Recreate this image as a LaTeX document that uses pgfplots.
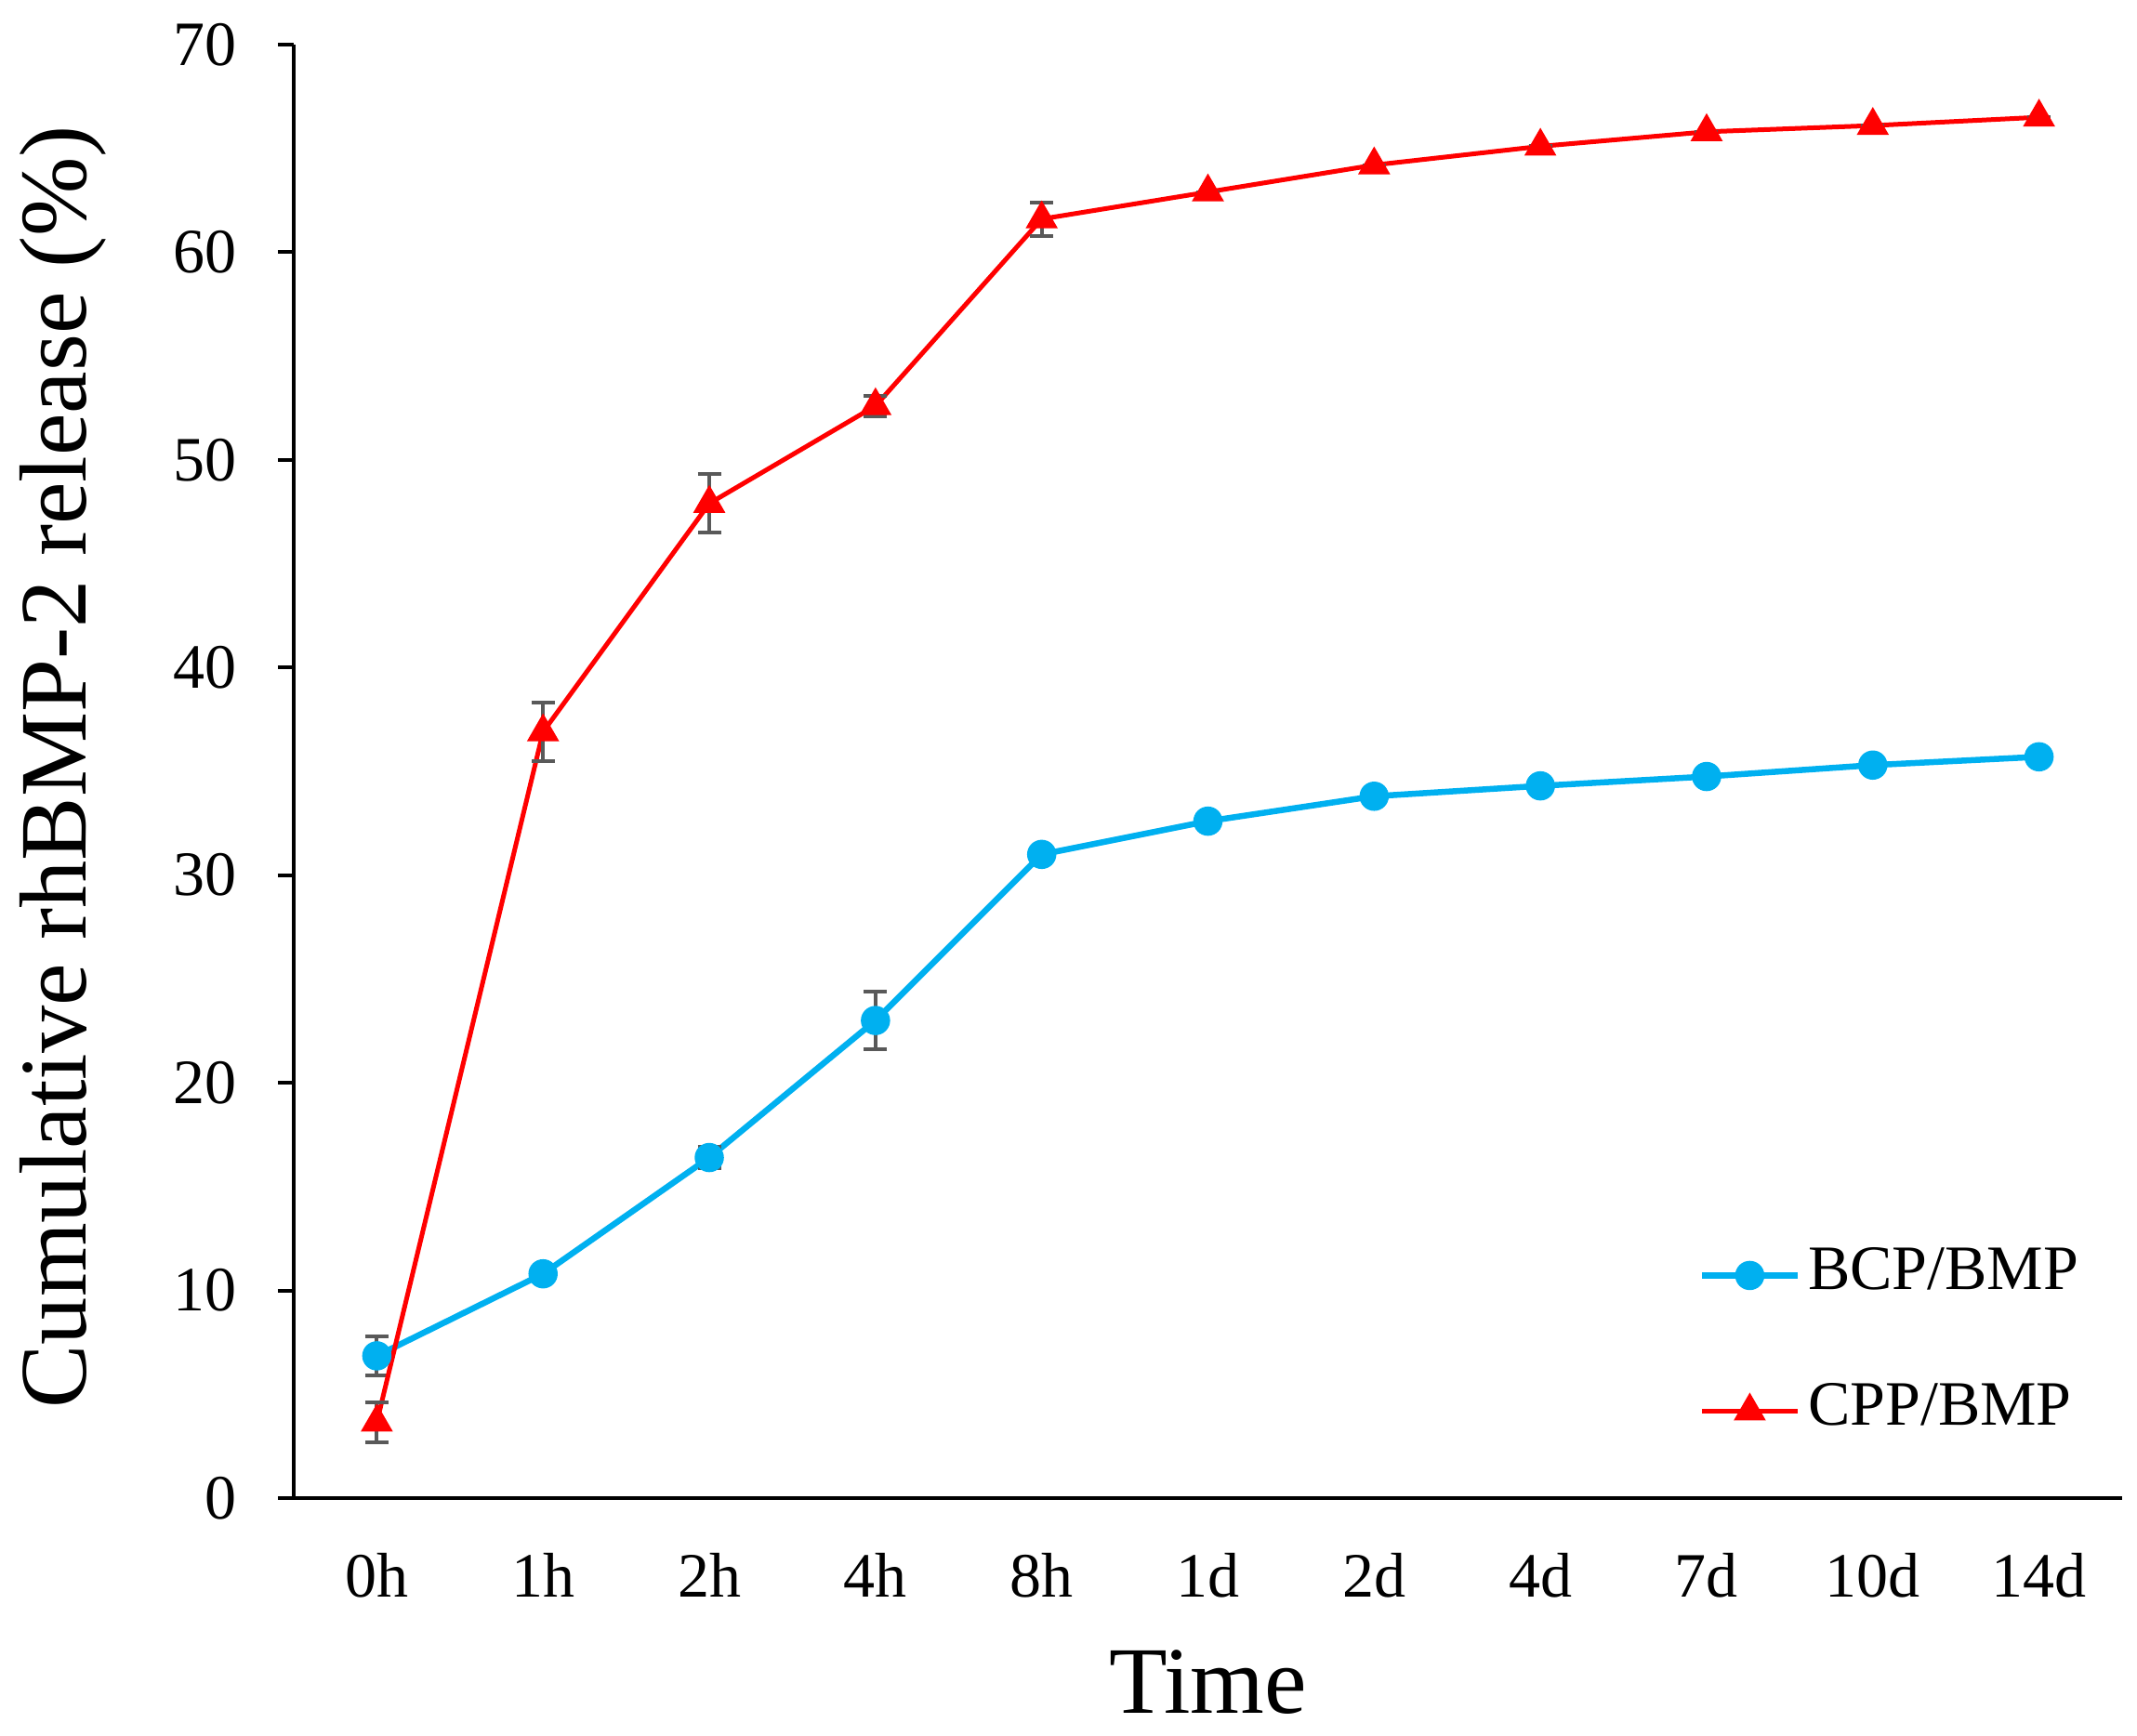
\documentclass[border=0pt]{standalone}
\usepackage{pgfplots}
\pgfplotsset{compat=1.18}
\usepackage{fontspec}
\setmainfont{Liberation Serif}
\definecolor{bcp}{RGB}{0,176,240}
\definecolor{cpp}{RGB}{255,0,0}
\definecolor{errc}{RGB}{89,89,89}

\begin{document}
\begin{tikzpicture}
\begin{axis}[
  scale only axis, width=393.4pt, height=312.8pt,
  xmin=-0.5, xmax=10.5, ymin=0, ymax=70,
  axis x line*=bottom, axis y line*=left,
  axis line style={line width=0.8pt, -},
  xtick={0,...,10},
  xticklabels={0h,1h,2h,4h,8h,1d,2d,4d,7d,10d,14d},
  ytick={0,10,...,70},
  tick align=outside,
  major tick length=3.4pt,
  xtick style={draw=none},
  ytick style={line width=0.8pt, black},
  tick label style={font=\fontsize{13.6}{16}\selectfont},
  /pgf/number format/assume math mode=true,
  yticklabel style={inner sep=0pt, xshift=-8.6pt},
  xticklabel style={inner sep=0pt, anchor=base, yshift=-18pt},
  xlabel={Time},
  ylabel={Cumulative rhBMP-2 release (\%)},
  label style={font=\fontsize{20.5}{24}\selectfont},
  xlabel style={at={(axis description cs:0.5,-0.1477)}, anchor=base},
  ylabel style={at={(axis description cs:-0.1134,0.503)}, anchor=base},
  legend cell align=left,
  legend style={draw=none, fill=none, at={(rel axis cs:0.768,0.1733)}, anchor=north west,
    inner sep=0pt, row sep=17pt, column sep=1.6pt,
    nodes={inner sep=0pt, font=\fontsize{13.6}{16}\selectfont, text height=9.2pt, text depth=3pt}},
  legend image code/.code={\draw[mark repeat=2, mark phase=2] plot coordinates {(0pt,0pt) (10.3pt,0pt) (20.6pt,0pt)};},
]
\addplot[color=bcp, line width=1.3pt, mark=*, mark size=3pt,
  mark options={fill=bcp, draw=bcp, line width=0.3pt},
  error bars/.cd, y dir=both, y explicit,
  error bar style={errc, line width=0.8pt},
  error mark options={errc, rotate=90, mark size=2.5pt, line width=0.8pt}]
coordinates {
(0,6.85) +- (0,0.93)
(1,10.8) +- (0,0)
(2,16.4) +- (0,0.5)
(3,23.0) +- (0,1.4)
(4,31.0) +- (0,0)
(5,32.6) +- (0,0)
(6,33.8) +- (0,0)
(7,34.3) +- (0,0)
(8,34.75) +- (0,0)
(9,35.3) +- (0,0)
(10,35.7) +- (0,0)
};
\addlegendentry{BCP/BMP}
\addplot[color=cpp, line width=1pt, mark=triangle*, mark size=3.7pt,
  mark options={fill=cpp, draw=cpp, line width=0.3pt},
  error bars/.cd, y dir=both, y explicit,
  error bar style={errc, line width=0.8pt},
  error mark options={errc, rotate=90, mark size=2.5pt, line width=0.8pt}]
coordinates {
(0,3.65) +- (0,0.95)
(1,36.9) +- (0,1.4)
(2,47.9) +- (0,1.4)
(3,52.6) +- (0,0.5)
(4,61.6) +- (0,0.8)
(5,62.9) +- (0,0)
(6,64.2) +- (0,0)
(7,65.1) +- (0,0)
(8,65.8) +- (0,0)
(9,66.1) +- (0,0)
(10,66.5) +- (0,0)
};
\addlegendentry{CPP/BMP}
\end{axis}
\pgfresetboundingbox
\path ([shift={(-63.2pt,-51.2pt)}]current axis.south west) rectangle ([shift={(3.2pt,9.6pt)}]current axis.north east);
\end{tikzpicture}
\end{document}
